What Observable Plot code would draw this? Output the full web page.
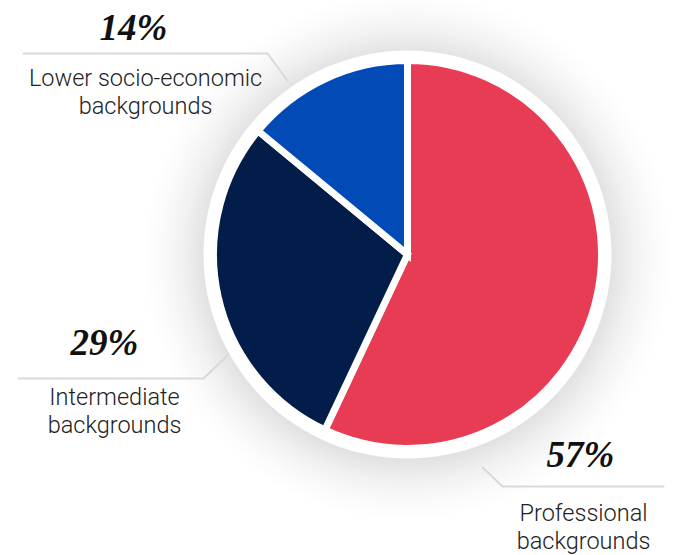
<!DOCTYPE html>
<html><head><meta charset="utf-8">
<script src="https://cdn.jsdelivr.net/npm/d3@7"></script>
<script src="https://cdn.jsdelivr.net/npm/@observablehq/plot@0.6"></script>
<style>body{margin:0;background:#fff;} svg{display:block;}</style>
</head><body><div id="chart"></div>
<script>
// ---- data ----
const categories = ["Professional backgrounds", "Intermediate backgrounds", "Lower socio-economic backgrounds"];
const values = [57, 29, 14];
const percentLabels = ["57%", "29%", "14%"];
const nameLabels = ["Professional\nbackgrounds", "Intermediate\nbackgrounds", "Lower socio-economic\nbackgrounds"];
const colors = ["#E83C55", "#031D4A", "#024BB7"];

// ---- layout ----
const W = 673, H = 555;
const pieCenter = [407.5, 254.5];
const pieRadius = 194, ringRadius = 204, shadowRadius = 265;
const pctPos = [[580, 466], [104, 354], [133, 39]];
const namePos = [[583, 548], [114, 432], [145, 113]];
const leaders = [
  [[482, 467], [502, 486], [663, 486]],
  [[18, 378], [203, 378], [227, 355]],
  [[23, 53], [267, 53], [287, 80]]
];

const color = Plot.scale({color: {type: "ordinal", domain: categories, range: colors}});
const slices = categories.map((c, i) => ({category: c, value: values[i]}));

const pctRows = percentLabels.map((t, i) => ({text: t, x: pctPos[i][0], y: pctPos[i][1]}));
const nameRows = nameLabels.map((t, i) => ({text: t, x: namePos[i][0], y: namePos[i][1]}));
const leaderRows = leaders.flatMap((pts, i) => pts.map(p => ({id: i, x: p[0], y: p[1]})));

function pieMark(index, scales, values, dimensions, context) {
  const cx = scales.x(pieCenter[0]), cy = scales.y(pieCenter[1]);
  const g = d3.create("svg:g");
  const defs = g.append("defs");
  const grad = defs.append("radialGradient").attr("id", "pieShadow")
    .attr("gradientUnits", "userSpaceOnUse").attr("cx", cx).attr("cy", cy + 2).attr("r", shadowRadius);
  const r0 = ringRadius / shadowRadius;
  grad.append("stop").attr("offset", r0 - 0.01).attr("stop-color", "#000").attr("stop-opacity", 0.12);
  grad.append("stop").attr("offset", r0 + (1 - r0) * 0.35).attr("stop-color", "#000").attr("stop-opacity", 0.055);
  grad.append("stop").attr("offset", r0 + (1 - r0) * 0.7).attr("stop-color", "#000").attr("stop-opacity", 0.018);
  grad.append("stop").attr("offset", 1).attr("stop-color", "#000").attr("stop-opacity", 0);
  g.append("circle").attr("cx", cx).attr("cy", cy + 2).attr("r", shadowRadius).attr("fill", "url(#pieShadow)");
  g.append("circle").attr("cx", cx).attr("cy", cy).attr("r", ringRadius).attr("fill", "#fff");
  const arcs = d3.pie().sort(null).value(d => d.value)(slices);
  const arc = d3.arc().innerRadius(0).outerRadius(pieRadius);
  g.append("g").attr("transform", `translate(${cx},${cy})`)
    .selectAll("path").data(arcs).join("path")
    .attr("d", arc)
    .attr("fill", d => color.apply(d.data.category))
    .attr("stroke", "#fff").attr("stroke-width", 7);
  return g.node();
}

const chart = Plot.plot({
  width: W, height: H, margin: 0,
  x: {domain: [0, W], range: [0, W], axis: null},
  y: {domain: [0, H], range: [0, H], axis: null},
  marks: [
    pieMark,
    Plot.line(leaderRows, {x: "x", y: "y", z: "id", stroke: "#d9d9d9", strokeWidth: 2}),
    Plot.text(pctRows, {x: "x", y: "y", text: "text", textAnchor: "middle", lineAnchor: "bottom",
      fontFamily: "Liberation Serif", fontStyle: "italic", fontWeight: "bold", fontSize: 37, fill: "#111"}),
    Plot.text(nameRows, {x: "x", y: "y", text: "text", textAnchor: "middle", lineAnchor: "bottom",
      lineHeight: 1.15, fontFamily: "Roboto", fontWeight: 300, fontSize: 23.5, fill: "#222"})
  ]
});
document.getElementById("chart").append(chart);
</script>
</body></html>
